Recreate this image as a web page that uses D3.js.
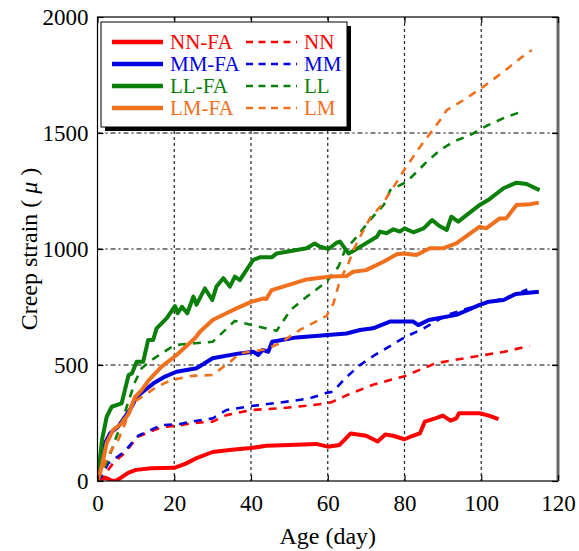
<!DOCTYPE html>
<html>
<head>
<meta charset="utf-8">
<script src="https://cdn.jsdelivr.net/npm/d3@7"></script>
<style>
  body { margin: 0; background: #fff; }
</style>
</head>
<body>
<div id="chart"></div>
<script>
    const svgWidth = 579
    const svgHeight = 551
    const serif = "'Liberation Serif', 'Times New Roman', 'DejaVu Serif', serif"

    // tick values
    const xTicks = [0, 20, 40, 60, 80, 100, 120]
    const yTicks = [0, 500, 1000, 1500, 2000]

    // series: [age (day), creep strain]
    const nnFa = [[0,0],[2,15],[4,0],[5,2],[8,35],[10,48],[14,55],[20,57],[23,75],[26,100],[30,125],[35,135],[40,142],[44,152],[50,155],[57,160],[60,148],[63,155],[66,205],[70,195],[73,170],[75,200],[77,195],[80,180],[82,194],[84,205],[85.3,256],[88,270],[90,282],[92,260],[93.5,270],[94.2,292],[99.6,292],[102,282],[104.5,267]]
    const nn = [[0,0],[2,30],[4,75],[7,120],[10.5,190],[14,215],[17,233],[21.5,240],[25,250],[30,256],[33.6,284],[40,306],[47.5,313],[55,325],[60,335],[61.3,342],[65,370],[72,416],[80,452],[88,507],[97,533],[106,557],[112.6,582]]
    const mmFa = [[0,0],[1.5,148],[3.3,206],[5.4,234],[7.2,277],[8.9,320],[10.2,363],[12.4,392],[14.6,421],[17.6,450],[20.6,471],[25.8,486],[30,529],[37,550],[40.6,557],[41.9,543],[43,565],[44.5,557],[45.5,600],[51.9,619],[60,629],[64.9,636],[68.4,651],[71.8,658],[76.2,687],[82.3,687],[83.6,672],[86.3,694],[93.5,716],[99.6,759],[102,773],[105.8,780],[109,806],[115,816]]
    const mm = [[0,0],[1,20],[2.8,76],[7,126],[10.6,195],[16.7,241],[21.5,246],[24.5,256],[30,270],[33.6,306],[40,323],[47.5,338],[55,355],[60,381],[61.3,385],[65,450],[68.4,500],[72,540],[80,619],[85,658],[91,716],[99.6,759],[107.4,794],[112,826]]
    const llFa = [[0,0],[1.2,180],[2.4,277],[3.7,320],[6.3,335],[8.1,457],[9,464],[10.2,514],[11.9,514],[13.2,608],[14.5,608],[15.4,658],[18,701],[20.2,754],[20.9,723],[22,751],[23.4,723],[25,795],[25.8,760],[28,830],[29.9,780],[31,838],[32.8,874],[34.5,838],[35.8,881],[37.1,866],[38.8,909],[40.6,953],[42.3,964],[45.4,964],[46.7,981],[54.5,1003],[56.6,1024],[58,1010],[60.2,1000],[62.3,1027],[63.2,1032],[65.4,981],[67,995],[72.8,1053],[73.6,1075],[75.3,1068],[77.1,1085],[78.8,1075],[80,1089],[82.3,1072],[85,1089],[87.2,1125],[89,1100],[91,1082],[92.2,1139],[94,1118],[99.6,1190],[101.8,1211],[105.8,1262],[109.2,1286],[111.8,1280],[115.2,1254]]
    const ll = [[0,0],[2.8,90],[4.6,177],[6.3,250],[7.6,320],[9.8,428],[11.5,486],[14.1,521],[16.7,550],[20.2,586],[25.4,594],[30,600],[35.8,690],[40.2,672],[46.7,648],[50.3,737],[54.6,795],[59.7,859],[62.8,924],[64.5,996],[67.6,1053],[71,1125],[74.6,1190],[76.3,1254],[80.6,1290],[85.8,1376],[89.3,1427],[92.8,1463],[97.1,1491],[101.4,1531],[106.6,1570],[111.3,1596]]
    const lmFa = [[0,0],[1.1,62],[2.4,164],[4.1,220],[6.3,248],[8.2,292],[9.8,363],[11.5,392],[13.4,435],[16.7,493],[20.6,543],[25.4,615],[26.7,643],[30,694],[33.6,723],[36.2,744],[40.2,773],[43.3,787],[44,785],[45.4,823],[54.5,869],[60.7,881],[65,884],[66.6,902],[70,909],[74.5,945],[78,977],[79.7,981],[83.1,974],[86.6,1003],[90,1003],[93.5,1024],[99.6,1096],[101.3,1089],[104.8,1132],[106.5,1132],[109.2,1190],[112.6,1193],[115,1200]]
    const lm = [[0,0],[2.8,112],[5.4,177],[7.2,248],[8.9,335],[12.4,371],[15.4,406],[19.3,435],[24.5,453],[30,457],[34.6,514],[37.1,550],[44,568],[47.5,594],[52.7,651],[59.7,712],[61.5,766],[63.2,866],[65.4,938],[66.7,996],[68.9,1068],[71.1,1135],[74.1,1190],[77.2,1269],[80.2,1348],[84.1,1441],[86.7,1499],[89.3,1556],[91,1599],[95.4,1642],[100.6,1700],[105.8,1764],[110.2,1822],[113.2,1858]]

    const seriesNames = ["NN-FA", "NN", "MM-FA", "MM", "LL-FA", "LL", "LM-FA", "LM"]
    const seriesData = [nnFa, nn, mmFa, mm, llFa, ll, lmFa, lm]
    const seriesColors = ["#ff0000", "#ff0000", "#0000e0", "#0000e0", "#0a7f0a", "#0a7f0a", "#f0701e", "#f0701e"]
    const seriesDashed = [false, true, false, true, false, true, false, true]

    const margin = {left: 97.5, right: 21, top: 17, bottom: 70}
    const plotW = svgWidth - margin.left - margin.right
    const plotH = svgHeight - margin.top - margin.bottom

    const svg = d3.select("#chart")
        .append("svg")
        .attr("width", svgWidth)
        .attr("height", svgHeight)
        .attr("font-family", serif)

    const x = d3.scaleLinear().domain([0, 120]).range([0, plotW])
    const y = d3.scaleLinear().domain([0, 2000]).range([plotH, 0])

    const g = svg.append("g")
        .attr("transform", "translate(" + margin.left + "," + margin.top + ")")

    // grid
    g.selectAll(".vgrid")
        .data(xTicks.slice(1, -1))
        .enter().append("line")
        .attr("x1", d => x(d)).attr("x2", d => x(d))
        .attr("y1", 0).attr("y2", plotH)
        .style("stroke", "#222")
        .style("stroke-width", 1.2)
        .style("stroke-dasharray", "3,3")

    g.selectAll(".hgrid")
        .data(yTicks.slice(1, -1))
        .enter().append("line")
        .attr("x1", 0).attr("x2", plotW)
        .attr("y1", d => y(d)).attr("y2", d => y(d))
        .style("stroke", "#555")
        .style("stroke-width", 1.5)
        .style("stroke-dasharray", "5,3,2,3")

    // series
    g.append("clipPath").attr("id", "clip")
        .append("rect").attr("width", plotW).attr("height", plotH + 3).attr("y", -3)

    const line = d3.line().x(d => x(d[0])).y(d => y(d[1]))

    seriesData.forEach((data, i) => {
        g.append("path")
            .attr("d", line(data))
            .attr("clip-path", "url(#clip)")
            .style("fill", "none")
            .style("stroke", seriesColors[i])
            .style("stroke-width", seriesDashed[i] ? 2.6 : 4)
            .style("stroke-linejoin", "round")
            .style("stroke-dasharray", seriesDashed[i] ? "8,7" : null)
    })

    // frame
    g.append("rect")
        .attr("width", plotW).attr("height", plotH)
        .style("fill", "none").style("stroke", "#000").style("stroke-width", 1.2)
    g.append("line")
        .attr("x1", plotW).attr("x2", plotW).attr("y1", 0).attr("y2", plotH)
        .style("stroke", "#666").style("stroke-width", 3)

    // axes
    const xAxis = d3.axisBottom(x).tickValues(xTicks).tickSize(-6).tickPadding(14).tickFormat(d3.format("d"))
    const yAxis = d3.axisLeft(y).tickValues(yTicks).tickSize(-6).tickPadding(9).tickFormat(d3.format("d"))

    const gx = g.append("g").attr("transform", "translate(0," + plotH + ")").call(xAxis)
    const gy = g.append("g").call(yAxis)
    g.append("g").call(d3.axisTop(x).tickValues(xTicks).tickSize(-6).tickFormat(""))
    g.append("g").attr("transform", "translate(" + plotW + ",0)")
        .call(d3.axisRight(y).tickValues(yTicks).tickSize(-6).tickFormat(""))

    g.selectAll(".domain").remove()
    g.selectAll(".tick line").style("stroke", "#000").style("stroke-width", 1.2)
    g.selectAll(".tick text")
        .style("font-family", serif)
        .style("font-size", "23px")
        .style("fill", "#000")

    // axis titles
    svg.append("text")
        .attr("x", margin.left + plotW / 2)
        .attr("y", 544)
        .attr("text-anchor", "middle")
        .style("font-family", serif)
        .style("font-size", "24px")
        .text("Age (day)")

    const yl = svg.append("text")
        .attr("transform", "translate(37," + (margin.top + plotH / 2) + ") rotate(-90)")
        .attr("text-anchor", "middle")
        .style("font-family", serif)
        .style("font-size", "24px")
    yl.append("tspan").text("Creep strain ( ")
    yl.append("tspan").style("font-style", "italic").text("μ")
    yl.append("tspan").text(" )")

    // legend
    const lg = svg.append("g")
    lg.append("rect").attr("x", 105).attr("y", 26).attr("width", 246).attr("height", 105).style("fill", "#000")
    lg.append("rect").attr("x", 101).attr("y", 22).attr("width", 246).attr("height", 105)
        .style("fill", "#fff").style("stroke", "#000").style("stroke-width", 1)

    const legendRows = [42, 64, 86, 108]
    seriesNames.forEach((name, i) => {
        const row = Math.floor(i / 2)
        const col = i % 2
        const lx = col === 0 ? 112 : 246
        const ty = legendRows[row]
        lg.append("line")
            .attr("x1", lx).attr("x2", lx + 51)
            .attr("y1", ty).attr("y2", ty)
            .style("stroke", seriesColors[i])
            .style("stroke-width", seriesDashed[i] ? 2.6 : 4.5)
            .style("stroke-dasharray", seriesDashed[i] ? "7,5.5" : null)
        lg.append("text")
            .attr("x", lx + 58)
            .attr("y", ty + 7)
            .style("font-family", serif)
            .style("font-size", "21px")
            .style("fill", seriesColors[i])
            .text(name)
    })
</script>
</body>
</html>
